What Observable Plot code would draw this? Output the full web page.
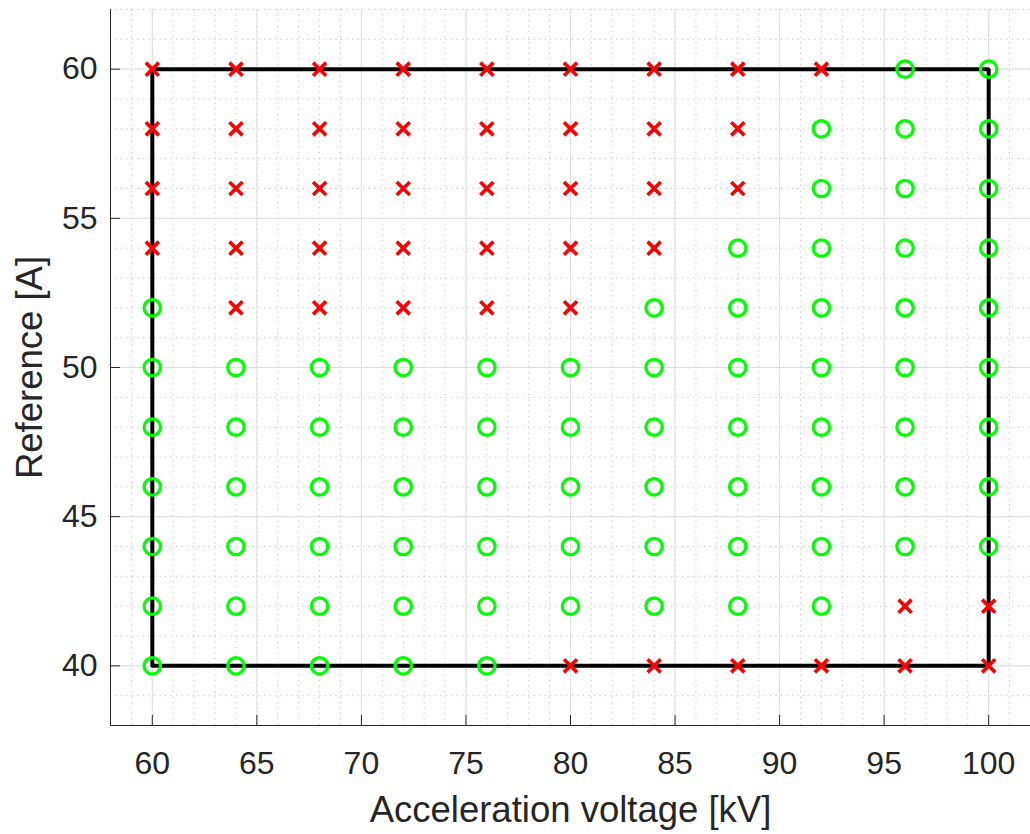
<!DOCTYPE html>
<html><head><meta charset="utf-8">
<script src="https://cdn.jsdelivr.net/npm/d3@7"></script>
<script src="https://cdn.jsdelivr.net/npm/@observablehq/plot@0.6"></script>
<style>body{margin:0;background:#fff}</style>
</head><body><div id="chart"></div>
<script>
// Test grid: acceleration voltage (kV) x reference current (A)
const voltages = [60, 64, 68, 72, 76, 80, 84, 88, 92, 96, 100];
const currents = [60, 58, 56, 54, 52, 50, 48, 46, 44, 42, 40];
// one string per current row, one char per voltage: "o" = pass (green circle), "x" = fail (red cross)
const status = [
  "xxxxxxxxxoo", // 60
  "xxxxxxxxooo", // 58
  "xxxxxxxxooo", // 56
  "xxxxxxxoooo", // 54
  "oxxxxxooooo", // 52
  "ooooooooooo", // 50
  "ooooooooooo", // 48
  "ooooooooooo", // 46
  "ooooooooooo", // 44
  "oooooooooxx", // 42
  "oooooxxxxxx"  // 40
];
// boundary rectangle
const boxVoltage = [60, 100, 100, 60, 60];
const boxCurrent = [40, 40, 60, 60, 40];
// ticks
const xTicks = [60, 65, 70, 75, 80, 85, 90, 95, 100];
const yTicks = [40, 45, 50, 55, 60];
const xDomain = [58, 102];
const yDomain = [38, 62];
const xLabel = "Acceleration voltage [kV]";
const yLabel = "Reference [A]";

const points = [];
currents.forEach((a, i) => voltages.forEach((v, j) => points.push({v, a, ok: status[i][j] === "o"})));
const box = boxVoltage.map((v, i) => ({v, a: boxCurrent[i]}));
const xMinor = d3.range(xDomain[0], xDomain[1] + 1);
const yMinor = d3.range(yDomain[0], yDomain[1] + 1);

const W = 1030, H = 834, mL = 110, mR = 0, mT = 9, mB = 109;
const frameW = W - mL - mR, frameH = H - mT - mB;
const ink = "#262626";

const chart = Plot.plot({
  width: W, height: H,
  marginLeft: mL, marginRight: mR, marginTop: mT, marginBottom: mB,
  x: {domain: xDomain},
  y: {domain: yDomain},
  style: {fontFamily: "'Liberation Sans', Arial, Helvetica, sans-serif", color: ink, background: "#fff", overflow: "visible"},
  marks: [
    Plot.ruleX(xMinor, {stroke: "#c4c4c4", strokeWidth: 1, strokeDasharray: "1.2,4.3"}),
    Plot.ruleY(yMinor, {stroke: "#c4c4c4", strokeWidth: 1, strokeDasharray: "1.2,4.3"}),
    Plot.ruleX(xTicks, {stroke: "#dedede", strokeWidth: 1}),
    Plot.ruleY(yTicks, {stroke: "#dedede", strokeWidth: 1}),
    Plot.ruleX([xDomain[0]], {stroke: ink, strokeWidth: 1}),
    Plot.ruleY([yDomain[0]], {stroke: ink, strokeWidth: 1}),
    Plot.ruleX(xTicks, {stroke: ink, strokeWidth: 1, insetTop: frameH - 10}),
    Plot.ruleY(yTicks, {stroke: ink, strokeWidth: 1, insetRight: frameW - 10}),
    Plot.axisX({ticks: xTicks, tickSize: 0, tickPadding: 26, fontSize: 32, label: null}),
    Plot.axisY({ticks: yTicks, tickSize: 0, tickPadding: 13, fontSize: 32, label: null}),
    Plot.line(box, {x: "v", y: "a", stroke: "#000", strokeWidth: 4, strokeLinejoin: "miter"}),
    Plot.dot(points.filter(d => d.ok), {x: "v", y: "a", symbol: "circle", r: 8.2, stroke: "#00ff00", strokeWidth: 3.3, fill: "none"}),
    Plot.dot(points.filter(d => !d.ok), {x: "v", y: "a", symbol: "times", r: 6, stroke: "#ff0000", strokeWidth: 3.6}),
    Plot.text([xLabel], {text: d => d, frameAnchor: "bottom", lineAnchor: "top", dy: 71, fontSize: 36.5, fill: ink}),
    Plot.text([yLabel], {text: d => d, frameAnchor: "left", textAnchor: "middle", rotate: -90, dx: -80, fontSize: 36.5, fill: ink})
  ]
});
document.getElementById("chart").appendChild(chart);
</script>
</body></html>
